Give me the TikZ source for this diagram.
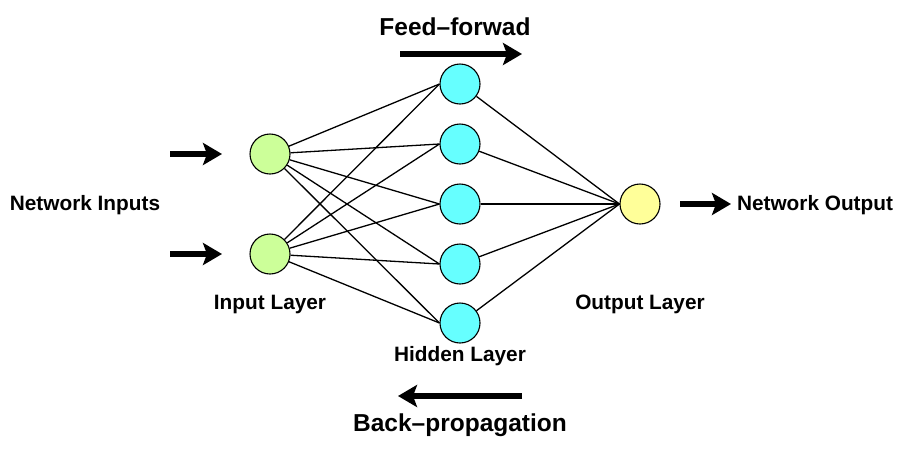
\documentclass[tikz,border=0pt]{standalone}
\usepackage{fontspec}
\setmainfont{Liberation Sans}
\usetikzlibrary{arrows.meta}
\definecolor{ingreen}{RGB}{204,255,153}
\definecolor{hidcyan}{RGB}{102,255,255}
\definecolor{outyellow}{RGB}{255,255,153}
\begin{document}
\begin{tikzpicture}[x=1pt,y=-1pt]
  \tikzstyle{neuron}=[circle,draw,line width=1.1pt,minimum size=40pt,inner sep=0pt]
  \tikzstyle{label}=[font=\fontsize{20.8}{24}\selectfont\bfseries]
  \tikzstyle{biglabel}=[font=\fontsize{24.5}{28}\selectfont\bfseries]
  \tikzstyle{bigarrow}=[line width=5.5pt,-{Stealth[length=19pt,width=22pt,inset=4pt]}]
  \tikzstyle{link}=[line width=1.3pt]
  \useasboundingbox (0,0) rectangle (902,451);
  % input layer
  \node[neuron,fill=ingreen] (i1) at (270,154) {};
  \node[neuron,fill=ingreen] (i2) at (270,254) {};
  % hidden layer
  \foreach \n/\y in {1/84,2/144,3/204,4/264,5/323}
    \node[neuron,fill=hidcyan] (h\n) at (460,\y) {};
  % output layer
  \node[neuron,fill=outyellow] (o) at (640,204) {};
  % connections
  \foreach \i in {1,2}
    \foreach \h in {1,...,5}
      \draw[link] (i\i) -- (h\h.west);
  \foreach \h in {1,...,5}
    \draw[link] (h\h) -- (o.west);
  % arrows
  \coordinate (a1) at (170,154);
  \coordinate (a2) at (170,254);
  \coordinate (b1) at (222,154);
  \coordinate (b2) at (222,254);
  \draw[bigarrow] (a1) -- (b1);
  \draw[bigarrow] (a2) -- (b2);
  \coordinate (oa) at (680,204);
  \coordinate (ob) at (731,204);
  \draw[bigarrow] (oa) -- (ob);
  \coordinate (ff1) at (400,54);
  \coordinate (ff2) at (522,54);
  \draw[bigarrow] (ff1) -- (ff2);
  \coordinate (bp1) at (522,396);
  \coordinate (bp2) at (398,396);
  \draw[bigarrow] (bp1) -- (bp2);
  % labels
  \node[label] (ins) at (85,205) {Network Inputs};
  \node[label] (outs) at (815,205) {Network Output};
  \node[label] (il) at (270,304) {Input Layer};
  \node[label] (hl) at (460,356) {Hidden Layer};
  \node[label] (ol) at (640,304) {Output Layer};
  \node[biglabel] (ff) at (455,27) {Feed--forwad};
  \node[biglabel] (bp) at (460,425) {Back--propagation};
\end{tikzpicture}
\end{document}
